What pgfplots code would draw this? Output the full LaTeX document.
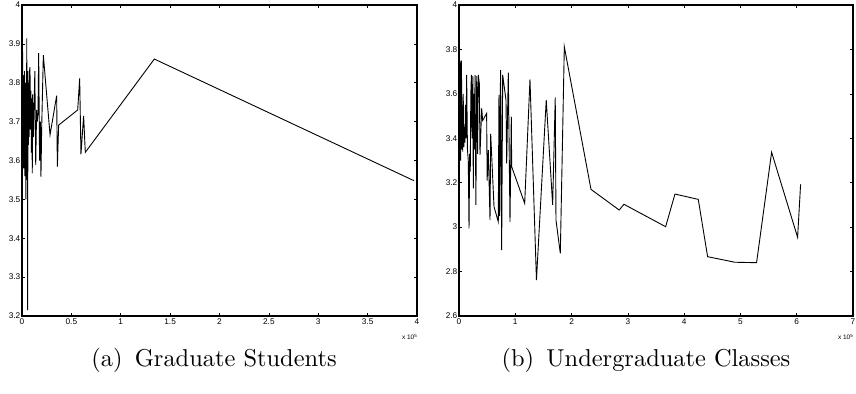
\documentclass[border=0pt]{standalone}
\usepackage{pgfplots}
\pgfplotsset{compat=1.18}
\usepackage{fontspec}
\newfontfamily\hv{Liberation Sans}
\newfontfamily\capfont{lmroman10-regular.otf}
\begin{document}
\begin{tikzpicture}
\path[use as bounding box] (0,0) rectangle (856bp,-394bp);
\pgfplotsset{
  mstyle/.style={
    scale only axis,
    anchor=south west,
    height=311bp,
    clip mode=individual,
    axis line style={line width=1.1bp},
    tick style={line width=0.6bp, black},
    major tick length=3bp,
    tick align=inside,
    xtick pos=both, ytick pos=both,
    /pgf/number format/assume math mode=true,
    /pgf/number format/fixed,
    tick label style={font=\hv\fontsize{8.3}{10}\selectfont},
    yticklabel style={inner sep=1.5bp},
    xticklabel style={inner sep=3bp},
  }
}
% (a) Graduate Students
\begin{axis}[mstyle, at={(22bp,-316bp)}, width=395bp,
  xmin=0, xmax=4, ymin=3.2, ymax=4,
  xtick={0,0.5,...,4}, ytick={3.2,3.3,...,4.01}]
\addplot[black, line width=0.9bp] coordinates {
(0.000,3.70) (0.003,3.56) (0.007,3.88) (0.010,3.60) (0.013,3.82) (0.016,3.58)
(0.019,3.80) (0.022,3.65) (0.025,3.83) (0.028,3.56) (0.031,3.78) (0.034,3.68)
(0.037,3.80) (0.040,3.50) (0.043,3.82) (0.046,3.60) (0.048,3.914) (0.052,3.55)
(0.055,3.80) (0.057,3.215) (0.060,3.83) (0.064,3.64) (0.068,3.80) (0.072,3.66)
(0.076,3.83) (0.081,3.84) (0.085,3.68) (0.090,3.78) (0.095,3.62) (0.100,3.76)
(0.104,3.567) (0.108,3.77) (0.115,3.66) (0.122,3.73) (0.130,3.83) (0.139,3.588)
(0.148,3.73) (0.155,3.70) (0.162,3.72) (0.169,3.876) (0.178,3.60) (0.186,3.70)
(0.192,3.558) (0.199,3.68) (0.216,3.871) (0.284,3.666) (0.351,3.767) (0.358,3.584)
(0.371,3.691) (0.564,3.73) (0.584,3.811) (0.597,3.616) (0.624,3.715) (0.641,3.621)
(1.34,3.861) (3.97,3.548)
};
\node[anchor=north east, inner sep=0pt, font=\hv\fontsize{6.5}{7}\selectfont] at (rel axis cs:1,0) [yshift=-18bp] {x 10\raisebox{0.7ex}{\fontsize{4.5}{5}\selectfont 5}};
\end{axis}
% (b) Undergraduate Classes
\begin{axis}[mstyle, at={(459bp,-316bp)}, width=394bp,
  xmin=0, xmax=7, ymin=2.6, ymax=4,
  xtick={0,1,...,7}, ytick={2.6,2.8,...,4.01}]
\addplot[black, line width=0.9bp] coordinates {
(0.000,3.30) (0.005,3.854) (0.012,3.40) (0.020,3.75) (0.028,3.30) (0.036,3.60)
(0.044,3.75) (0.050,3.35) (0.058,3.55) (0.066,3.34) (0.075,3.60) (0.085,3.36)
(0.095,3.45) (0.105,3.38) (0.115,3.55) (0.125,3.40) (0.136,3.685) (0.150,3.35)
(0.165,3.30) (0.178,2.995) (0.190,3.33) (0.200,3.25) (0.210,3.60) (0.220,3.685)
(0.232,3.40) (0.245,3.68) (0.254,3.175) (0.265,3.60) (0.275,3.35) (0.285,3.685)
(0.300,3.10) (0.315,3.68) (0.330,3.33) (0.343,3.685) (0.361,3.647) (0.373,3.325)
(0.403,3.535) (0.420,3.48) (0.491,3.512) (0.500,3.21) (0.521,3.347) (0.551,3.032)
(0.563,3.42) (0.622,3.092) (0.698,3.024) (0.710,3.595) (0.722,3.05) (0.733,3.60)
(0.740,3.707) (0.758,2.897) (0.776,3.685) (0.835,3.572) (0.847,3.287) (0.876,3.695)
(0.906,3.024) (0.929,3.497) (0.936,3.272) (1.167,3.107) (1.261,3.665) (1.376,2.762)
(1.550,3.572) (1.664,3.10) (1.710,3.584) (1.723,3.032) (1.800,2.882) (1.871,3.812)
(2.345,3.170) (2.847,3.077) (2.930,3.103) (3.671,3.002) (3.837,3.149) (4.251,3.125)
(4.417,2.867) (4.902,2.842) (5.287,2.840) (5.554,3.337) (6.016,2.954) (6.069,3.193)
};
\node[anchor=north east, inner sep=0pt, font=\hv\fontsize{6.5}{7}\selectfont] at (rel axis cs:1,0) [yshift=-18bp] {x 10\raisebox{0.7ex}{\fontsize{4.5}{5}\selectfont 5}};
\end{axis}
\node[anchor=base, font=\capfont\fontsize{24.5}{29}\selectfont] at (214bp,-366bp) {(a)\hspace{0.5em}Graduate Students};
\node[anchor=base, font=\capfont\fontsize{24.5}{29}\selectfont] at (646bp,-366bp) {(b)\hspace{0.5em}Undergraduate Classes};
\end{tikzpicture}
\end{document}
